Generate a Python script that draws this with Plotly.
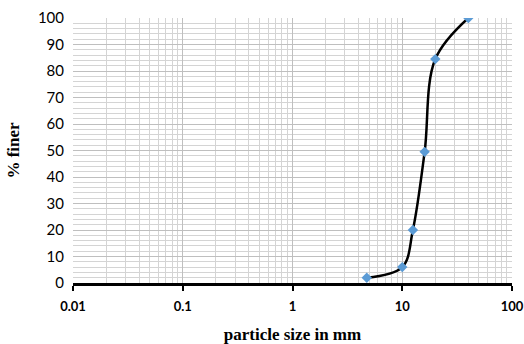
import plotly.graph_objects as go

particle_size_mm = [4.75, 10, 12.5, 16, 20, 40]
percent_finer = [2, 6, 20, 49.5, 84.5, 100]
x_tick_vals = [0.01, 0.1, 1, 10, 100]
x_tick_text = ["0.01", "0.1", "1", "10", "100"]
y_tick_vals = list(range(0, 101, 10))

fig = go.Figure()
fig.add_trace(go.Scatter(
    x=particle_size_mm, y=percent_finer, mode="lines+markers",
    line=dict(color="black", width=2.5, shape="spline", smoothing=1.0),
    marker=dict(symbol="diamond", size=8, color="#5b9bd5"),
    showlegend=False,
))

fig.update_layout(
    width=524, height=344,
    margin=dict(l=73, r=12, t=18, b=61, autoexpand=False),
    paper_bgcolor="white", plot_bgcolor="white",
    xaxis=dict(
        type="log", range=[-2, 2],
        tickvals=x_tick_vals, ticktext=x_tick_text,
        tickfont=dict(family="Lato", size=13, color="black", weight="bold"),
        ticklabeloverflow="allow",
        showgrid=True, gridcolor="#bfbfbf", gridwidth=1,
        minor=dict(showgrid=True, dtick="D1", gridcolor="#d4d4d4", gridwidth=1),
        showline=True, linecolor="black", linewidth=2.5,
        ticks="outside", ticklen=5, tickwidth=2, tickcolor="black",
        zeroline=False, mirror=False, automargin=False,
        ticklabelstandoff=5,
        title=dict(text="particle size in mm",
                   font=dict(family="Liberation Serif", size=17, color="black", weight="bold"),
                   standoff=16),
    ),
    yaxis=dict(
        range=[0, 100], tickvals=y_tick_vals,
        tickfont=dict(family="Lato", size=15, color="black"),
        showgrid=True, gridcolor="#bfbfbf", gridwidth=1,
        minor=dict(showgrid=True, dtick=2, gridcolor="#d4d4d4", gridwidth=1),
        showline=False, zeroline=False, ticks="", automargin=False,
        ticklabelstandoff=8,
        title=dict(text="% finer",
                   font=dict(family="Liberation Serif", size=17, color="black", weight="bold"),
                   standoff=13),
    ),
)

fig.write_html("out.html",
               config={"displayModeBar": False},
               post_script="document.body.style.margin='0';document.body.style.overflow='hidden';")
